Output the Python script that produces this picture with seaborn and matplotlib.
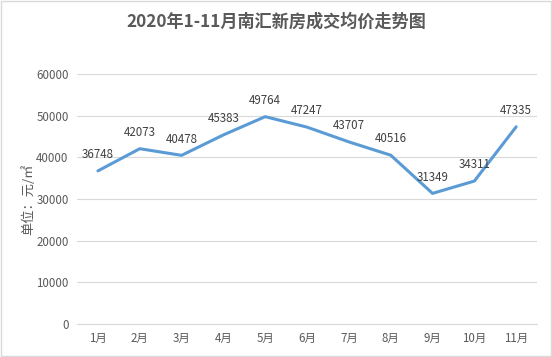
import matplotlib
matplotlib.use('Agg')
import matplotlib.pyplot as plt
import seaborn as sns
import pandas as pd

months = ['1月', '2月', '3月', '4月', '5月', '6月', '7月', '8月', '9月', '10月', '11月']
prices = [36748, 42073, 40478, 45383, 49764, 47247, 43707, 40516, 31349, 34311, 47335]
yticks = [0, 10000, 20000, 30000, 40000, 50000, 60000]

sns.set_style('white')
plt.rcParams['font.family'] = ['Noto Sans CJK SC', 'DejaVu Sans']

df = pd.DataFrame({'month': months, 'price': prices})

fig = plt.figure(figsize=(5.52, 3.57), dpi=100)
ax = fig.add_axes([0.1395, 0.0924, 0.8335, 0.7003])

sns.lineplot(data=df, x='month', y='price', ax=ax, color='#5B9BD5', linewidth=2.2, sort=False)

ax.set_xlim(-0.5, len(months) - 0.5)
ax.set_ylim(0, 60000)
ax.set_yticks(yticks)
ax.set_yticklabels([str(v) for v in yticks])
ax.yaxis.grid(True, color='#D9D9D9', linewidth=0.8)
for s in ['top', 'right', 'left']:
    ax.spines[s].set_visible(False)
ax.spines['bottom'].set_color('#D9D9D9')
ax.tick_params(axis='both', length=0, labelsize=8.3, colors='#595959', pad=6)
ax.set_xlabel('')
ax.set_ylabel('单位：元/㎡', fontsize=9.5, color='#595959', labelpad=1)

for i, v in enumerate(prices):
    ax.annotate(str(v), (i, v), xytext=(0, 7), textcoords='offset points',
                ha='center', va='bottom', fontsize=8.3, color='#404040')

fig.text(0.5, 0.938, '2020年1-11月南汇新房成交均价走势图', ha='center', va='center',
         fontsize=12.3, fontweight='bold', color='#595959')

fig.patches.append(plt.Rectangle((0.002, 0.003), 0.996, 0.994, transform=fig.transFigure,
                                 fill=False, edgecolor='#D9D9D9', linewidth=1))

fig.savefig('out.png', dpi=100)
